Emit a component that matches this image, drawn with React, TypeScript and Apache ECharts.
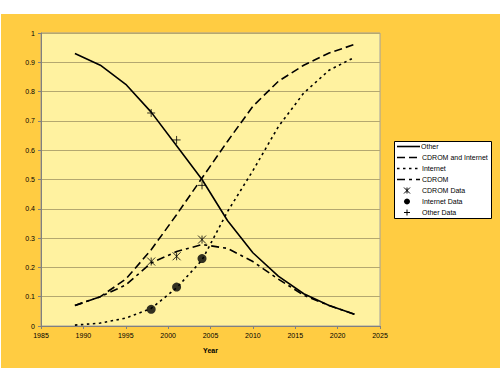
import React, { useEffect, useRef } from "react";
import * as echarts from "echarts";

const years = [1989, 1992, 1995, 1998, 2001, 2004, 2007, 2010, 2013, 2016, 2019, 2022];
const other = [0.93, 0.89, 0.825, 0.73, 0.615, 0.5, 0.36, 0.25, 0.17, 0.11, 0.07, 0.04];
const cdromAndInternet = [0.07, 0.1, 0.16, 0.26, 0.38, 0.505, 0.63, 0.75, 0.835, 0.89, 0.932, 0.961];
const internet = [0.003, 0.01, 0.027, 0.06, 0.13, 0.225, 0.39, 0.53, 0.68, 0.795, 0.873, 0.917];
const cdrom = [0.07, 0.1, 0.14, 0.215, 0.254, 0.278, 0.265, 0.22, 0.16, 0.105, 0.07, 0.04];

const dataYears = [1998, 2001, 2004];
const cdromData = [0.22, 0.238, 0.295];
const internetData = [0.057, 0.133, 0.23];
const otherData = [0.727, 0.635, 0.48];

const xTicks = { min: 1985, max: 2025, interval: 5 };
const legendNames = ["Other", "CDROM and Internet", "Internet", "CDROM", "CDROM Data", "Internet Data", "Other Data"];

const pair = (xs: number[], ys: number[]) => xs.map((x, i) => [x, ys[i]]);

const FONT = "Liberation Sans, Arial, sans-serif";

const DASH_LONG = [8, 4];
const DASH_DOT = [2.5, 3.5];
const DASH_DASHDOT = [8, 4, 3, 4];

export default function App() {
  const ref = useRef<HTMLDivElement>(null);
  useEffect(() => {
    if (!ref.current) return;
    const chart = echarts.init(ref.current, undefined, { renderer: "svg" });
    const lineBase = (name: string, data: number[], type: any) => ({
      name,
      type: "line",
      data: pair(years, data),
      symbol: "none",
      itemStyle: { color: "#000" },
      lineStyle: { color: "#000", width: 1.6, type },
    });

    // legend drawn as graphic
    const lx = 394, ly = 141, lw = 97, lh = 77;
    const rowY = (i: number) => ly + 5.5 + i * 11;
    const textX = 422;
    const stroke = { stroke: "#000", lineWidth: 1.6 };
    const legendEls: any[] = [
      { type: "rect", z: -100, silent: true, shape: { x: 1, y: 14, width: 499, height: 354 }, style: { fill: "#FFCC42" } },
      { type: "rect", shape: { x: lx + 0.5, y: ly + 0.5, width: lw, height: lh }, style: { fill: "#fff", stroke: "#000", lineWidth: 1 } },
    ];
    const lineDashes = [null, DASH_LONG, DASH_DOT, DASH_DASHDOT];
    lineDashes.forEach((d, i) => {
      legendEls.push({
        type: "line",
        shape: { x1: 397, y1: rowY(i), x2: 420, y2: rowY(i) },
        style: { ...stroke, lineDash: d || undefined },
      });
    });
    const mx = 407;
    const ay = rowY(4);
    legendEls.push({ type: "line", shape: { x1: mx - 3, y1: ay - 3, x2: mx + 3, y2: ay + 3 }, style: { stroke: "#000", lineWidth: 1 } });
    legendEls.push({ type: "line", shape: { x1: mx + 3, y1: ay - 3, x2: mx - 3, y2: ay + 3 }, style: { stroke: "#000", lineWidth: 1 } });
    legendEls.push({ type: "line", shape: { x1: mx, y1: ay - 3, x2: mx, y2: ay + 3 }, style: { stroke: "#000", lineWidth: 1 } });
    legendEls.push({ type: "circle", shape: { cx: mx, cy: rowY(5), r: 3 }, style: { fill: "#000" } });
    const py = rowY(6);
    legendEls.push({ type: "line", shape: { x1: mx - 3, y1: py, x2: mx + 3, y2: py }, style: { stroke: "#000", lineWidth: 1 } });
    legendEls.push({ type: "line", shape: { x1: mx, y1: py - 3, x2: mx, y2: py + 3 }, style: { stroke: "#000", lineWidth: 1 } });
    legendNames.forEach((n, i) => {
      legendEls.push({
        type: "text",
        x: i === 0 ? 421 : textX,
        y: rowY(i),
        style: { text: n, fill: "#000", font: `7px ${FONT}`, textVerticalAlign: "middle", verticalAlign: "middle" },
      });
    });

    chart.setOption({
      animation: false,
      backgroundColor: "#FFFFFF",
      textStyle: { fontFamily: FONT },
      grid: {
        left: 41,
        right: 120,
        top: 33,
        bottom: 49,
        show: true,
        backgroundColor: "#FFF2A0",
        borderColor: "#A0A0A0",
        borderWidth: 1,
      },
      xAxis: {
        type: "value",
        min: xTicks.min,
        max: xTicks.max,
        interval: xTicks.interval,
        name: "Year",
        nameLocation: "middle",
        nameGap: 21,
        nameTextStyle: { fontSize: 7, fontWeight: "bold", color: "#000", fontFamily: FONT },
        axisLine: { onZero: false, lineStyle: { color: "#808080" } },
        axisTick: { show: true, length: 3, lineStyle: { color: "#808080" } },
        axisLabel: { fontSize: 7, color: "#000", margin: 6, fontFamily: FONT, formatter: (v: number) => String(v) },
        splitLine: { show: false },
      },
      yAxis: {
        type: "value",
        min: 0,
        max: 1,
        interval: 0.1,
        axisLine: { show: true, lineStyle: { color: "#808080" } },
        axisTick: { show: true, length: 3, lineStyle: { color: "#808080" } },
        axisLabel: {
          fontSize: 7,
          color: "#000",
          margin: 6,
          fontFamily: FONT,
          formatter: (v: number) => String(Math.round(v * 10) / 10),
        },
        splitLine: { show: true, lineStyle: { color: "#B4A870", width: 1 } },
      },
      graphic: legendEls,
      series: [
        lineBase("Other", other, "solid"),
        lineBase("CDROM and Internet", cdromAndInternet, DASH_LONG),
        lineBase("Internet", internet, DASH_DOT),
        lineBase("CDROM", cdrom, DASH_DASHDOT),
        {
          name: "CDROM Data",
          type: "scatter",
          data: pair(dataYears, cdromData),
          symbol: "path://M0,0L10,10M10,0L0,10M5,0L5,10",
          symbolSize: 8,
          itemStyle: { color: "rgba(0,0,0,0)", borderColor: "#000", borderWidth: 1 },
        },
        {
          name: "Internet Data",
          type: "scatter",
          data: pair(dataYears, internetData),
          symbol: "circle",
          symbolSize: 9,
          itemStyle: { color: "#000" },
        },
        {
          name: "Other Data",
          type: "scatter",
          data: pair(dataYears, otherData),
          symbol: "path://M5,0L5,10M0,5L10,5",
          symbolSize: 8,
          itemStyle: { color: "rgba(0,0,0,0)", borderColor: "#000", borderWidth: 1 },
        },
      ],
    });
    return () => chart.dispose();
  }, []);
  return <div ref={ref} style={{ width: 500, height: 375, position: "absolute", left: 0, top: 0 }} />;
}
